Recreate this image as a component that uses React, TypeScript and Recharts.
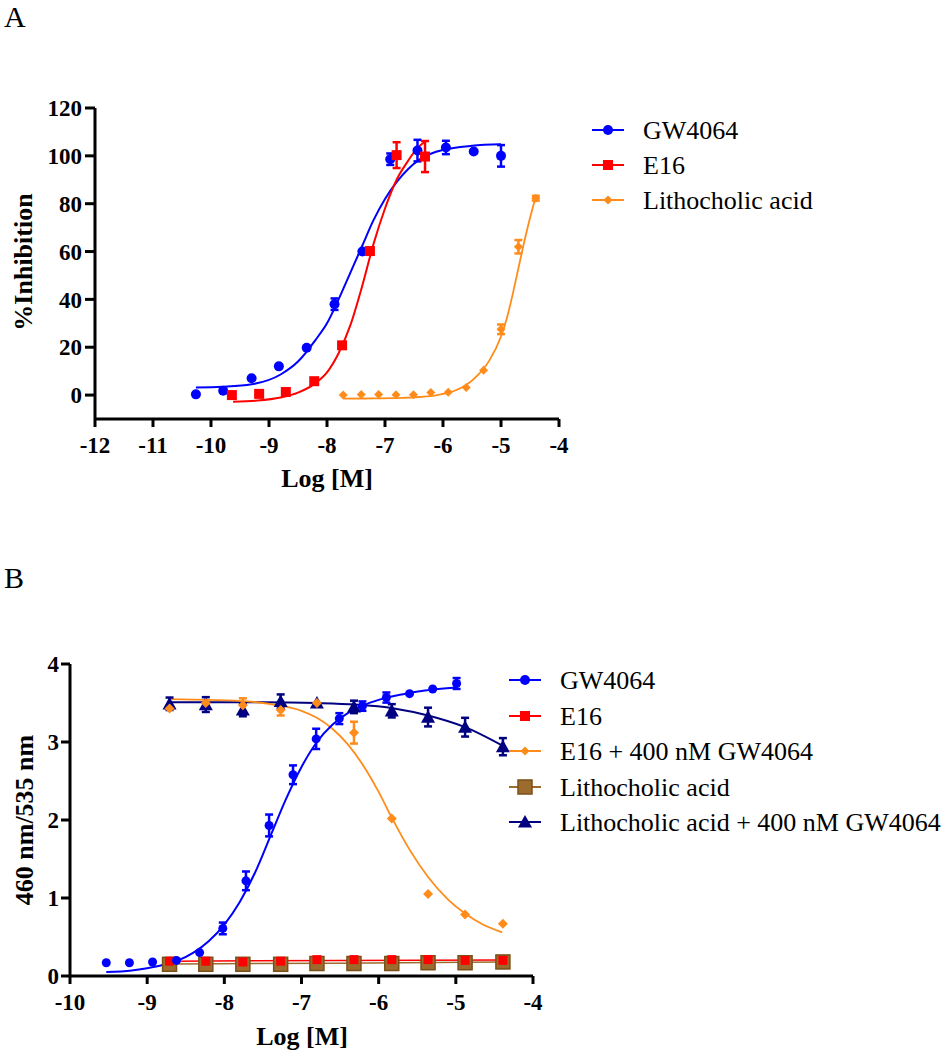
import { ComposedChart, Line, Scatter, XAxis, YAxis, ErrorBar } from "recharts";

type Pt = { x: number; y: number; e?: number };

// ---- panel A: %Inhibition vs Log [M] ----
const gwA: Pt[] = [
  { x: -10.26, y: 0.3 }, { x: -9.79, y: 1.8 }, { x: -9.3, y: 7 }, { x: -8.83, y: 12 },
  { x: -8.35, y: 19.8 }, { x: -7.87, y: 38, e: 2.4 }, { x: -7.39, y: 60 }, { x: -6.91, y: 98.6, e: 2.4 },
  { x: -6.44, y: 102.2, e: 4.5 }, { x: -5.95, y: 103.5, e: 2.8 }, { x: -5.47, y: 101.8 }, { x: -5.0, y: 100, e: 4.5 },
];
const e16A: Pt[] = [
  { x: -9.64, y: 0 }, { x: -9.17, y: 0.5 }, { x: -8.71, y: 1.3 }, { x: -8.22, y: 5.8 },
  { x: -7.74, y: 20.8 }, { x: -7.26, y: 60.2 }, { x: -6.8, y: 100.3, e: 5.4 }, { x: -6.31, y: 99.7, e: 6.5 },
];
const lcaA: Pt[] = [
  { x: -7.72, y: 0 }, { x: -7.41, y: 0.2 }, { x: -7.11, y: 0.2 }, { x: -6.81, y: 0.1 },
  { x: -6.51, y: 0.1 }, { x: -6.21, y: 1.1 }, { x: -5.91, y: 1.2 }, { x: -5.6, y: 3.2 },
  { x: -5.3, y: 10.4 }, { x: -5.0, y: 27.5, e: 2 }, { x: -4.7, y: 62, e: 2.8 }, { x: -4.4, y: 82.3, e: 1 },
];
// fitted curves
const gwFitA: Pt[] = [
  { x: -10.26, y: 3.2 }, { x: -9.8, y: 3.5 }, { x: -9.3, y: 4.5 }, { x: -8.8, y: 8.6 },
  { x: -8.5, y: 14 }, { x: -8.2, y: 23 }, { x: -8.0, y: 30 }, { x: -7.8, y: 40 },
  { x: -7.6, y: 51 }, { x: -7.4, y: 62 }, { x: -7.2, y: 73 }, { x: -7.0, y: 82 },
  { x: -6.8, y: 89 }, { x: -6.6, y: 94.5 }, { x: -6.4, y: 98.5 }, { x: -6.2, y: 101 },
  { x: -6.0, y: 102.5 }, { x: -5.5, y: 104.2 }, { x: -5.0, y: 104.8 },
];
const e16FitA: Pt[] = [
  { x: -9.62, y: -2.8 }, { x: -9.2, y: -2.3 }, { x: -8.8, y: -1 }, { x: -8.5, y: 1 },
  { x: -8.2, y: 5 }, { x: -8.0, y: 9.5 }, { x: -7.8, y: 17.5 }, { x: -7.6, y: 29 },
  { x: -7.4, y: 45 }, { x: -7.2, y: 63 }, { x: -7.0, y: 78 }, { x: -6.8, y: 90 },
  { x: -6.6, y: 98 }, { x: -6.45, y: 103 }, { x: -6.31, y: 106 },
];
const lcaFitA: Pt[] = [
  { x: -7.72, y: -1.5 }, { x: -7.2, y: -1.4 }, { x: -6.7, y: -1.2 }, { x: -6.4, y: -0.8 },
  { x: -6.1, y: 0 }, { x: -5.8, y: 1.8 }, { x: -5.6, y: 4.2 }, { x: -5.4, y: 8.3 },
  { x: -5.2, y: 14.5 }, { x: -5.0, y: 24.5 }, { x: -4.9, y: 32 }, { x: -4.8, y: 42 },
  { x: -4.7, y: 53 }, { x: -4.6, y: 64 }, { x: -4.5, y: 74 }, { x: -4.4, y: 83 },
];

// ---- panel B: 460 nm/535 nm vs Log [M] ----
const gwB: Pt[] = [
  { x: -9.53, y: 0.17 }, { x: -9.23, y: 0.17 }, { x: -8.93, y: 0.18 }, { x: -8.62, y: 0.2 },
  { x: -8.32, y: 0.3 }, { x: -8.02, y: 0.61, e: 0.075 }, { x: -7.72, y: 1.22, e: 0.12 }, { x: -7.42, y: 1.93, e: 0.14 },
  { x: -7.11, y: 2.58, e: 0.12 }, { x: -6.81, y: 3.04, e: 0.13 }, { x: -6.51, y: 3.3, e: 0.07 }, { x: -6.21, y: 3.46, e: 0.06 },
  { x: -5.9, y: 3.57, e: 0.065 }, { x: -5.6, y: 3.62 }, { x: -5.3, y: 3.68 }, { x: -4.99, y: 3.75, e: 0.07 },
];
const e16B: Pt[] = [
  { x: -8.71, y: 0.19 }, { x: -8.24, y: 0.19 }, { x: -7.76, y: 0.18 }, { x: -7.27, y: 0.19 }, { x: -6.8, y: 0.21 },
  { x: -6.32, y: 0.21 }, { x: -5.83, y: 0.21 }, { x: -5.36, y: 0.21 }, { x: -4.88, y: 0.2 }, { x: -4.39, y: 0.2 },
];
const e16GwB: Pt[] = [
  { x: -8.71, y: 3.43 }, { x: -8.24, y: 3.5 }, { x: -7.76, y: 3.47, e: 0.09 }, { x: -7.27, y: 3.41, e: 0.07 },
  { x: -6.8, y: 3.5 }, { x: -6.32, y: 3.12, e: 0.14 }, { x: -5.83, y: 2.02 }, { x: -5.36, y: 1.05 },
  { x: -4.88, y: 0.79 }, { x: -4.39, y: 0.67 },
];
const lcaB: Pt[] = [
  { x: -8.71, y: 0.15 }, { x: -8.24, y: 0.15 }, { x: -7.76, y: 0.15 }, { x: -7.27, y: 0.15 }, { x: -6.8, y: 0.16 },
  { x: -6.32, y: 0.16 }, { x: -5.83, y: 0.16 }, { x: -5.36, y: 0.17 }, { x: -4.88, y: 0.17 }, { x: -4.39, y: 0.18 },
];
const lcaGwB: Pt[] = [
  { x: -8.71, y: 3.49, e: 0.08 }, { x: -8.24, y: 3.48, e: 0.095 }, { x: -7.76, y: 3.41, e: 0.08 },
  { x: -7.27, y: 3.52, e: 0.09 }, { x: -6.8, y: 3.5 }, { x: -6.32, y: 3.45, e: 0.08 },
  { x: -5.83, y: 3.4, e: 0.085 }, { x: -5.36, y: 3.32, e: 0.12 }, { x: -4.88, y: 3.19, e: 0.12 },
  { x: -4.39, y: 2.94, e: 0.11 },
];
const gwFitB: Pt[] = [
  { x: -9.53, y: 0.05 }, { x: -9.2, y: 0.07 }, { x: -9.0, y: 0.1 }, { x: -8.8, y: 0.14 },
  { x: -8.6, y: 0.2 }, { x: -8.4, y: 0.3 }, { x: -8.2, y: 0.45 }, { x: -8.0, y: 0.66 },
  { x: -7.8, y: 0.95 }, { x: -7.6, y: 1.33 }, { x: -7.4, y: 1.8 }, { x: -7.2, y: 2.27 },
  { x: -7.0, y: 2.68 }, { x: -6.8, y: 3.0 }, { x: -6.6, y: 3.22 }, { x: -6.4, y: 3.37 },
  { x: -6.2, y: 3.47 }, { x: -6.0, y: 3.54 }, { x: -5.7, y: 3.61 }, { x: -5.4, y: 3.66 }, { x: -4.99, y: 3.7 },
];
const e16FitB: Pt[] = [{ x: -8.71, y: 0.19 }, { x: -6.5, y: 0.2 }, { x: -4.39, y: 0.205 }];
const lcaFitB: Pt[] = [{ x: -8.71, y: 0.155 }, { x: -6.5, y: 0.165 }, { x: -4.39, y: 0.18 }];
const e16GwFitB: Pt[] = [
  { x: -8.71, y: 3.55 }, { x: -8.2, y: 3.54 }, { x: -7.7, y: 3.52 }, { x: -7.3, y: 3.47 },
  { x: -7.0, y: 3.4 }, { x: -6.8, y: 3.31 }, { x: -6.6, y: 3.17 }, { x: -6.4, y: 2.97 },
  { x: -6.2, y: 2.7 }, { x: -6.0, y: 2.36 }, { x: -5.83, y: 2.03 }, { x: -5.6, y: 1.62 },
  { x: -5.36, y: 1.27 }, { x: -5.1, y: 0.98 }, { x: -4.88, y: 0.8 }, { x: -4.65, y: 0.66 }, { x: -4.4, y: 0.56 },
];
const lcaGwFitB: Pt[] = [
  { x: -8.71, y: 3.51 }, { x: -7.5, y: 3.51 }, { x: -6.8, y: 3.5 }, { x: -6.3, y: 3.48 },
  { x: -5.8, y: 3.43 }, { x: -5.36, y: 3.34 }, { x: -4.88, y: 3.19 }, { x: -4.39, y: 2.95 },
];

const TICKS_A_X = [-12, -11, -10, -9, -8, -7, -6, -5, -4];
const TICKS_A_Y = [0, 20, 40, 60, 80, 100, 120];
const TICKS_B_X = [-10, -9, -8, -7, -6, -5, -4];
const TICKS_B_Y = [0, 1, 2, 3, 4];

const LEGEND_A = ["GW4064", "E16", "Lithocholic acid"];
const LEGEND_B = ["GW4064", "E16", "E16 + 400 nM GW4064", "Lithocholic acid", "Lithocholic acid + 400 nM GW4064"];

const BLUE = "#0000ff";
const RED = "#ff0000";
const ORANGE = "#ff8c1a";
const BROWN = "#9c6b2e";
const BROWN_EDGE = "#7a5018";
const NAVY = "#000080";
const SERIF = '"Liberation Serif", "Times New Roman", serif';

const axisLine = { stroke: "#000", strokeWidth: 3 };
const tickFont = { fill: "#000", fontSize: 23, fontWeight: 700, fontFamily: SERIF };

const dot = (fill: string, r: number) => (p: any) => <circle cx={p.cx} cy={p.cy} r={r} fill={fill} />;
const square = (fill: string, s: number, edge?: string) => (p: any) => (
  <rect x={p.cx - s / 2} y={p.cy - s / 2} width={s} height={s} fill={fill}
    stroke={edge ?? "none"} strokeWidth={edge ? 1.5 : 0} />
);
const diamond = (fill: string, h: number) => (p: any) => (
  <polygon points={`${p.cx},${p.cy - h} ${p.cx + h},${p.cy} ${p.cx},${p.cy + h} ${p.cx - h},${p.cy}`} fill={fill} />
);
const triangle = (fill: string, h: number) => (p: any) => (
  <polygon points={`${p.cx},${p.cy - h} ${p.cx + h},${p.cy + h * 0.8} ${p.cx - h},${p.cy + h * 0.8}`} fill={fill} />
);

const fitLine = (data: Pt[], color: string, w: number) => (
  <Line data={data} dataKey="y" type="monotone" stroke={color} strokeWidth={w}
    dot={false} activeDot={false} isAnimationActive={false} legendType="none" />
);

function Legend({ x, rows, labels, shapes, colors }: {
  x: number; rows: number[]; labels: string[]; shapes: ((p: any) => any)[]; colors: string[];
}) {
  return (
    <g>
      {labels.map((l, i) => (
        <g key={l}>
          <line x1={x} x2={x + 32} y1={rows[i]} y2={rows[i]} stroke={colors[i]} strokeWidth={2} />
          {shapes[i]({ cx: x + 16, cy: rows[i] })}
          <text x={x + 51} y={rows[i] + 9} fontSize={26} fontFamily={SERIF} fill="#000">{l}</text>
        </g>
      ))}
    </g>
  );
}

export default function App() {
  return (
    <div style={{ position: "absolute", left: 0, top: 0, width: 950, height: 1050, background: "#fff" }}>
      <div style={{ position: "absolute", left: 0, top: 0 }}>
        <ComposedChart width={580} height={500} margin={{ top: 108, right: 21, bottom: 21, left: 0 }}>
          <XAxis type="number" dataKey="x" domain={[-12, -4]} ticks={TICKS_A_X} interval={0}
            axisLine={axisLine} tickLine={axisLine} tick={tickFont} tickSize={8} tickMargin={10} height={60} />
          <YAxis type="number" dataKey="y" domain={[-10, 120]} ticks={TICKS_A_Y} interval={0}
            axisLine={axisLine} tickLine={axisLine} tick={tickFont} tickSize={10} tickMargin={3} width={95} />
          {fitLine(gwFitA, BLUE, 2)}
          {fitLine(e16FitA, RED, 2)}
          {fitLine(lcaFitA, ORANGE, 1.8)}
          <Scatter data={gwA} shape={dot(BLUE, 5)} isAnimationActive={false}>
            <ErrorBar dataKey="e" direction="y" width={4} stroke={BLUE} strokeWidth={2.5} />
          </Scatter>
          <Scatter data={e16A} shape={square(RED, 10)} isAnimationActive={false}>
            <ErrorBar dataKey="e" direction="y" width={4} stroke={RED} strokeWidth={2.5} />
          </Scatter>
          <Scatter data={lcaA} shape={diamond(ORANGE, 4.5)} isAnimationActive={false}>
            <ErrorBar dataKey="e" direction="y" width={4} stroke={ORANGE} strokeWidth={2.5} />
          </Scatter>
        </ComposedChart>
      </div>

      <div style={{ position: "absolute", left: 0, top: 560 }}>
        <ComposedChart width={553} height={490} margin={{ top: 104, right: 20, bottom: 14, left: 0 }}>
          <XAxis type="number" dataKey="x" domain={[-10, -4]} ticks={TICKS_B_X} interval={0}
            axisLine={axisLine} tickLine={axisLine} tick={tickFont} tickSize={8} tickMargin={10} height={60} />
          <YAxis type="number" dataKey="y" domain={[0, 4]} ticks={TICKS_B_Y} interval={0}
            axisLine={axisLine} tickLine={axisLine} tick={tickFont} tickSize={9} tickMargin={2} width={70} />
          {fitLine(lcaGwFitB, NAVY, 2)}
          {fitLine(lcaFitB, BROWN, 1.5)}
          {fitLine(e16GwFitB, ORANGE, 1.8)}
          {fitLine(e16FitB, RED, 1.5)}
          {fitLine(gwFitB, BLUE, 2)}
          <Scatter data={lcaGwB} shape={triangle(NAVY, 7)} isAnimationActive={false}>
            <ErrorBar dataKey="e" direction="y" width={4} stroke={NAVY} strokeWidth={2.5} />
          </Scatter>
          <Scatter data={lcaB} shape={square(BROWN, 14, BROWN_EDGE)} isAnimationActive={false} />
          <Scatter data={e16GwB} shape={diamond(ORANGE, 5)} isAnimationActive={false}>
            <ErrorBar dataKey="e" direction="y" width={4} stroke={ORANGE} strokeWidth={2.5} />
          </Scatter>
          <Scatter data={e16B} shape={square(RED, 9)} isAnimationActive={false} />
          <Scatter data={gwB} shape={dot(BLUE, 4.5)} isAnimationActive={false}>
            <ErrorBar dataKey="e" direction="y" width={4} stroke={BLUE} strokeWidth={2.5} />
          </Scatter>
        </ComposedChart>
      </div>

      <svg width={950} height={1050} style={{ position: "absolute", left: 0, top: 0, pointerEvents: "none" }}>
        <text x={4} y={27} fontSize={30} fontFamily={SERIF}>A</text>
        <text x={4} y={588} fontSize={30} fontFamily={SERIF}>B</text>

        <text x={327} y={487} fontSize={26} fontWeight={700} fontFamily={SERIF} textAnchor="middle">Log [M]</text>
        <text transform="translate(32,262) rotate(-90)" fontSize={26} fontWeight={700} fontFamily={SERIF}
          textAnchor="middle">%Inhibition</text>

        <text x={302} y={1045} fontSize={26} fontWeight={700} fontFamily={SERIF} textAnchor="middle">Log [M]</text>
        <text transform="translate(33,820) rotate(-90)" fontSize={26} fontWeight={700} fontFamily={SERIF}
          textAnchor="middle">460 nm/535 nm</text>

        <Legend x={592} rows={[130, 165, 200]} labels={LEGEND_A}
          shapes={[dot(BLUE, 5), square(RED, 10), diamond(ORANGE, 4.5)]} colors={[BLUE, RED, ORANGE]} />
        <Legend x={509} rows={[680, 716, 751, 787, 822]} labels={LEGEND_B}
          shapes={[dot(BLUE, 5), square(RED, 10), diamond(ORANGE, 4.5), square(BROWN, 14, BROWN_EDGE), triangle(NAVY, 7)]}
          colors={[BLUE, RED, ORANGE, BROWN, NAVY]} />
      </svg>
    </div>
  );
}
